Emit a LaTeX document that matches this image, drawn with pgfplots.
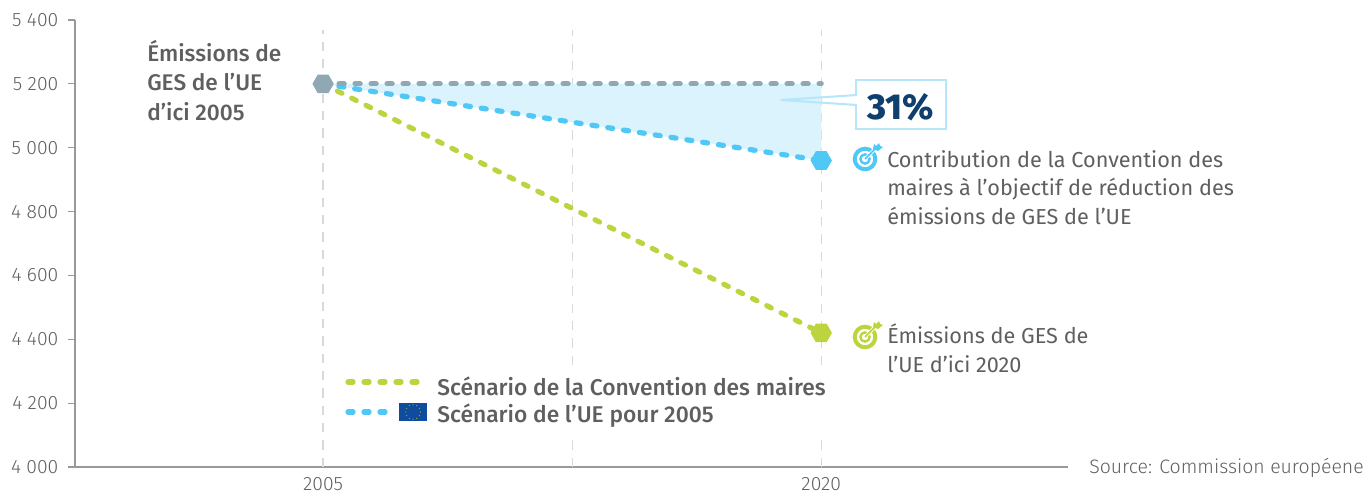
\documentclass[border=0pt]{standalone}
\usepackage{pgfplots}
\pgfplotsset{compat=1.18}
\usepackage{fontspec}
\setmainfont{Fira Sans Light}
\newfontfamily\bookfont{Fira Sans}
\newfontfamily\medfont{Fira Sans Medium}
\newfontfamily\bigfont{Fira Sans ExtraBold}
\usetikzlibrary{calc}
\definecolor{cgrid}{HTML}{D9D9D9}
\definecolor{caxis}{HTML}{999999}
\definecolor{ctext}{HTML}{5F5F5F}
\definecolor{cgrey}{HTML}{90A8B4}
\definecolor{cblue}{HTML}{4FC8F5}
\definecolor{cgreen}{HTML}{BDD43F}
\definecolor{cfill}{HTML}{DAF3FD}
\definecolor{cbox}{HTML}{B5E6FA}
\definecolor{cnavy}{HTML}{0E3F6E}
\definecolor{cflag}{HTML}{0F4C9E}
\pgfdeclareplotmark{hexa}{%
  \pgfpathmoveto{\pgfqpoint{8pt}{0pt}}%
  \pgfpathlineto{\pgfqpoint{4pt}{7pt}}%
  \pgfpathlineto{\pgfqpoint{-4pt}{7pt}}%
  \pgfpathlineto{\pgfqpoint{-8pt}{0pt}}%
  \pgfpathlineto{\pgfqpoint{-4pt}{-7pt}}%
  \pgfpathlineto{\pgfqpoint{4pt}{-7pt}}%
  \pgfpathclose\pgfusepathqfill}
\tikzset{dline/.style={line width=3.9pt,line cap=round,dash pattern=on 3.8pt off 8.2pt}}
\newcommand{\targeticon}[2]{%
  \begin{scope}[shift={#1},x=0.75pt,y=-0.75pt]
    \draw[#2,line width=3pt] (0,0) circle (10.3);
    \draw[#2,line width=1.8pt] (0,0) circle (4.6);
    \draw[white,line width=2.6pt] (0,0) -- (11,-11);
    \draw[#2,line width=1.3pt] (0,0) -- (11,-11);
    \fill[#2] (8,-10) -- (9,-15) -- (11,-13) -- (14,-16) -- (15,-13) -- (18,-12) -- (13,-8) -- cycle;
  \end{scope}}
\newcommand{\px}{0.75pt}
\begin{document}
\begin{tikzpicture}[x=\px,y=-\px]
\useasboundingbox (0,0) rectangle (1365,492);
\begin{axis}[
  at={(75*\px,-467*\px)},anchor=south west,
  scale only axis,width=745pt,height=335.25pt,
  xmin=-0.498,xmax=1.496,ymin=4000,ymax=5400,
  axis lines=left,axis line style={caxis,line width=0.9pt,-},
  ytick={4000,4200,...,5400},
  xtick={0,1},xticklabels={2005,2020},
  x tick style={draw=none},
  y tick style={caxis,line width=0.9pt},
  tick align=outside,major tick length=5.5pt,
  ticklabel style={font=\fontsize{14.5}{16}\selectfont,text=ctext},
  yticklabel style={xshift=-3.5pt},
  xticklabel style={inner sep=0pt,yshift=-2.33pt},
  /pgf/number format/1000 sep={\;},
  /pgf/number format/assume math mode=true,
  clip=false,
]
% gridlines
\addplot[cgrid,line width=1pt,dash pattern=on 7pt off 6pt] coordinates {(0,4000) (0,5370)};
\addplot[cgrid,line width=1pt,dash pattern=on 7pt off 6pt] coordinates {(0.5,4000) (0.5,4094)};
\addplot[cgrid,line width=1pt,dash pattern=on 7pt off 6pt] coordinates {(0.5,4319) (0.5,5370)};
\addplot[cgrid,line width=1pt,dash pattern=on 7pt off 6pt] coordinates {(1,4000) (1,4094)};
\addplot[cgrid,line width=1pt,dash pattern=on 7pt off 6pt] coordinates {(1,4319) (1,5370)};
% shaded gap
\addplot[draw=none,fill=cfill] coordinates {(0,5200) (1,5200) (1,4960)} -- cycle;
% lines
\addplot[dline,cgreen] coordinates {(0,5200) (1,4420)};
\addplot[dline,cblue] coordinates {(0,5200) (1,4960)};
\addplot[dline,cgrey] coordinates {(0,5200) (1,5200)};
% end marks
\addplot[only marks,mark=hexa,cgrey] coordinates {(0,5200)};
\addplot[only marks,mark=hexa,cblue] coordinates {(1,4960)};
\addplot[only marks,mark=hexa,cgreen] coordinates {(1,4420)};
\end{axis}
% callout
\draw[cbox,line width=2pt,fill=white] (856,80) rectangle (946,129);
\fill[white] (822,97.3) -- (858,95) -- (858,105) -- (822,102.7) -- cycle;
\draw[cbox,line width=1.5pt] (857,95) -- (781,100) -- (857,105);
\node[text=cnavy,font=\bigfont\fontsize{27}{29}\selectfont] at (901,107) {31\%};
% text
\node[anchor=north west,align=left,text=ctext,font=\medfont\fontsize{17}{22}\selectfont,inner sep=0pt] at (147,40) {Émissions de\\GES de l’UE\\d’ici 2005};
\node[anchor=north west,align=left,text=ctext,font=\bookfont\fontsize{16.25}{21.5}\selectfont,inner sep=0pt] at (887,150) {Contribution de la Convention des\\maires à l’objectif de réduction des\\émissions de GES de l’UE};
\node[anchor=north west,align=left,text=ctext,font=\bookfont\fontsize{16.25}{21.5}\selectfont,inner sep=0pt] at (887,323.5) {Émissions de GES de\\l’UE d’ici 2020};
\node[anchor=east,text=ctext,font=\fontsize{14.6}{16}\selectfont,inner sep=0pt] at (1364,468) {Source: Commission européene};
% legend
\draw[dline,cgreen] (348,382) -- (418,382);
\draw[dline,cblue] (348,412) -- (388,412);
\fill[cflag] (399,403) rectangle (427,421);
\foreach \a in {0,30,...,330}{\fill[cgreen!80!black] ($(413,412)+(\a:5.5pt)$) circle (0.5pt);}
\node[anchor=west,text=ctext,font=\medfont\fontsize{17.1}{18}\selectfont,inner sep=0pt] at (437,386) {Scénario de la Convention des maires};
\node[anchor=west,text=ctext,font=\medfont\fontsize{17.1}{18}\selectfont,inner sep=0pt] at (437,416) {Scénario de l’UE pour 2005};
\targeticon{(865,159)}{cblue}
\targeticon{(865,337)}{cgreen}
\end{tikzpicture}
\end{document}
